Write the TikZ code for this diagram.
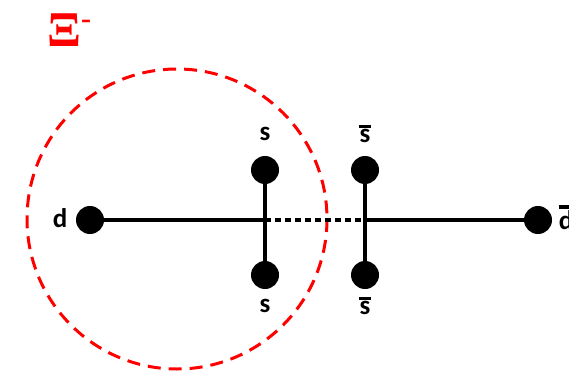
\documentclass[tikz,border=0pt]{standalone}
\usepackage{fontspec}
\usetikzlibrary{calc}
\setmainfont{Carlito}
\newfontfamily\xifont{Liberation Serif}
\begin{document}
\begin{tikzpicture}[x=1pt,y=-1pt,
  quark/.style={circle,fill=black,inner sep=0pt,minimum size=28pt},
  lbl/.style={font=\fontsize{27}{28}\selectfont\bfseries,inner sep=0pt},
  bond/.style={line width=4.5pt},
  weak/.style={line width=4.5pt,dash pattern=on 6pt off 4pt}]
\useasboundingbox (0,0) rectangle (569,379);
\draw[red,line width=3pt,dash pattern=on 13pt off 8pt] (177,219) circle[radius=150];
\node[quark] (d) at (90,220) {};
\node[quark] (db) at (538,220) {};
\node[quark] (s1) at (265,170) {};
\node[quark] (s2) at (265,275) {};
\node[quark] (sb1) at (365,170) {};
\node[quark] (sb2) at (365,275) {};
\coordinate (j1) at (265,220);
\coordinate (j2) at (365,220);
\draw[bond] (d.center) -- (j1);
\draw[weak] (j1) -- (j2);
\draw[bond] (j2) -- (db.center);
\draw[bond] (s1.center) -- (s2.center);
\draw[bond] (sb1.center) -- (sb2.center);
\node[lbl] (ld) at (60,218) {d};
\node[lbl] (ldb) at (566,220) {d};
\draw[line width=3.5pt] ($(ldb.north west)+(0,-3)$) -- ++(14,0);
\node[lbl] (ls1) at (265,134) {s};
\node[lbl] (ls2) at (265,306) {s};
\node[lbl] (lsb1) at (365,136) {s};
\node[lbl] (lsb2) at (365,308) {s};
\draw[line width=3.5pt] ($(lsb1.north west)+(0,-2.5)$) -- ($(lsb1.north east)+(0,-2.5)$);
\draw[line width=3.5pt] ($(lsb2.north west)+(0,-2.5)$) -- ($(lsb2.north east)+(0,-2.5)$);
\node[red,font=\xifont\fontsize{50}{52}\selectfont\bfseries,inner sep=0pt,anchor=west] (xi) at (47,30) {Ξ\raisebox{0.35em}{\fontsize{30}{30}\selectfont -}};
\end{tikzpicture}
\end{document}
